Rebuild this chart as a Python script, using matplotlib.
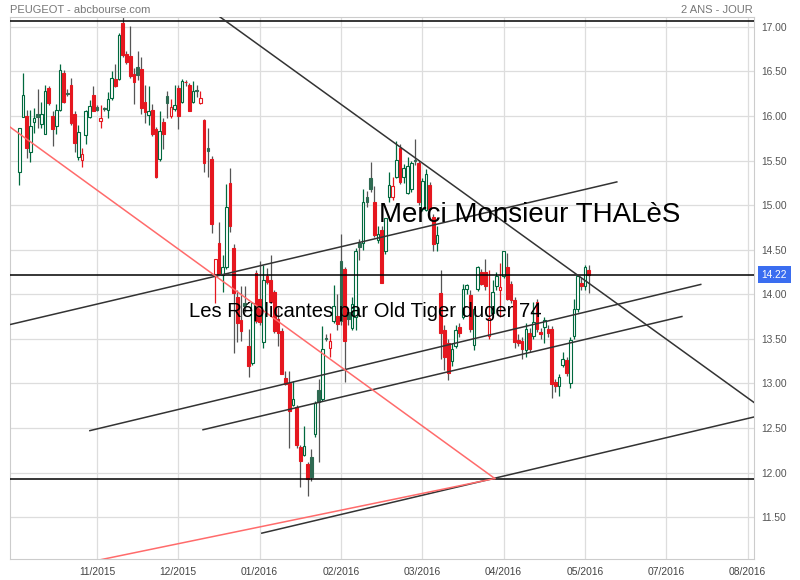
import matplotlib
matplotlib.use("Agg")
import matplotlib.pyplot as plt
from matplotlib.patches import Rectangle
import pandas as pd

# ---- daily candles (trading-day index 0..154) ----
opens = [15.37, 15.99, 16.00, 15.60, 15.93, 16.02, 15.91, 15.80, 16.31, 16.00,
         15.89, 16.07, 16.48, 16.26, 16.35, 16.02, 15.54, 15.51, 15.79, 15.99,
         16.24, 16.10, 15.94, 16.08, 16.07, 16.20, 16.42, 16.42, 17.04, 16.69,
         16.67, 16.47, 16.55, 16.53, 16.16, 16.01, 16.07, 15.85, 15.52, 15.93,
         16.22, 16.00, 16.08, 16.31, 16.16, 16.38, 16.35, 16.16, 16.29, 16.15,
         15.96, 15.64, 15.52, 14.20, 14.57, 14.22, 14.30, 15.25, 14.52, 13.97,
         13.71, 13.90, 13.42, 13.23, 14.24, 13.95, 13.46, 14.20, 14.16, 14.03,
         13.72, 13.59, 13.06, 13.00, 12.76, 12.74, 12.29, 12.20, 12.10, 12.17,
         12.43, 12.93, 12.83, 13.51, 13.40, 13.70, 13.76, 14.37, 14.28, 13.80,
         13.62, 13.75, 14.57, 14.57, 15.09, 15.30, 15.03, 14.61, 14.72, 14.48,
         15.09, 15.09, 15.32, 15.64, 15.31, 15.14, 15.18, 15.51, 15.47, 14.96,
         14.95, 15.22, 14.87, 14.57, 14.01, 13.60, 13.45, 13.25, 13.42, 13.63,
         13.75, 14.06, 13.99, 13.43, 14.06, 14.25, 14.25, 13.53, 13.79, 14.09,
         14.05, 14.21, 14.31, 14.12, 13.94, 13.49, 13.48, 13.38, 13.57, 13.53,
         13.91, 13.58, 13.63, 13.61, 13.61, 13.01, 12.97, 13.21, 13.26, 13.00,
         13.53, 13.84, 14.13, 14.09, 14.27]
highs = [15.87, 16.48, 16.07, 16.07, 16.09, 16.30, 16.16, 16.35, 16.34, 16.05,
         16.13, 16.58, 16.52, 16.30, 16.43, 16.05, 15.90, 15.64, 16.07, 16.18,
         16.34, 16.12, 16.12, 16.10, 16.27, 16.50, 16.58, 16.93, 17.11, 16.73,
         17.01, 16.54, 16.73, 16.66, 16.35, 16.34, 16.13, 15.88, 16.05, 15.98,
         16.28, 16.19, 16.35, 16.35, 16.41, 16.40, 16.37, 16.39, 16.35, 16.28,
         15.97, 15.86, 15.55, 14.39, 14.81, 14.44, 15.24, 15.42, 14.56, 14.05,
         14.09, 14.09, 13.61, 13.91, 14.27, 14.37, 14.33, 14.29, 14.44, 14.05,
         13.86, 13.62, 13.14, 13.14, 13.03, 12.76, 12.31, 12.52, 12.12, 12.26,
         12.80, 13.05, 13.64, 13.55, 13.57, 14.10, 14.00, 14.68, 14.30, 13.85,
         13.97, 14.52, 14.62, 15.18, 15.16, 15.48, 15.21, 14.76, 14.76, 14.86,
         15.37, 15.31, 15.72, 15.69, 15.46, 15.54, 15.50, 15.74, 15.50, 15.30,
         15.40, 15.26, 14.90, 14.77, 14.27, 13.66, 13.50, 13.45, 13.66, 13.68,
         14.12, 14.12, 14.05, 13.86, 14.32, 14.28, 14.40, 14.27, 14.16, 14.25,
         14.35, 14.49, 14.46, 14.15, 13.97, 13.55, 13.52, 13.68, 13.62, 13.91,
         13.95, 13.62, 13.75, 13.66, 13.64, 13.05, 13.10, 13.35, 13.30, 13.52,
         13.95, 14.22, 14.18, 14.33, 14.33]
lows = [15.22, 15.99, 15.53, 15.48, 15.81, 15.87, 15.87, 15.80, 16.12, 15.66,
        15.80, 16.05, 16.14, 16.22, 15.90, 15.60, 15.51, 15.43, 15.69, 15.98,
        16.05, 16.05, 15.87, 16.05, 15.98, 16.18, 16.33, 16.40, 16.66, 16.58,
        16.43, 16.13, 16.40, 16.02, 15.92, 15.90, 15.78, 15.30, 15.50, 15.63,
        15.98, 15.98, 16.06, 15.85, 16.14, 16.34, 16.05, 16.14, 16.21, 16.13,
        15.37, 15.31, 14.69, 13.90, 14.22, 14.03, 14.28, 14.70, 13.34, 13.46,
        13.47, 13.80, 13.07, 13.21, 13.68, 13.66, 13.40, 14.12, 13.90, 13.57,
        13.42, 13.10, 12.98, 12.27, 12.75, 12.28, 11.84, 12.18, 11.74, 11.90,
        12.40, 12.12, 12.80, 13.48, 13.30, 13.68, 13.60, 13.65, 13.02, 13.65,
        13.60, 13.60, 14.38, 14.50, 14.98, 15.15, 14.64, 14.57, 14.13, 14.45,
        15.03, 15.06, 15.30, 15.24, 15.25, 15.12, 15.15, 15.45, 15.00, 14.93,
        14.93, 14.94, 14.49, 14.48, 13.27, 13.15, 13.04, 13.20, 13.40, 13.52,
        13.72, 14.00, 13.58, 13.38, 14.04, 14.10, 14.05, 13.50, 13.75, 14.05,
        13.75, 14.18, 13.93, 13.90, 13.40, 13.42, 13.27, 13.30, 13.35, 13.50,
        13.58, 13.50, 13.45, 13.52, 12.84, 12.90, 12.86, 13.18, 13.08, 12.95,
        13.50, 13.80, 14.05, 14.05, 14.01]
closes = [15.86, 16.24, 15.64, 15.89, 15.98, 15.99, 16.02, 16.28, 16.15, 15.85,
          16.07, 16.51, 16.16, 16.25, 15.92, 15.70, 15.82, 15.57, 16.06, 16.11,
          16.06, 16.07, 15.98, 16.08, 16.19, 16.43, 16.34, 16.91, 16.68, 16.61,
          16.45, 16.38, 16.46, 16.09, 16.04, 16.05, 15.80, 15.32, 15.83, 15.80,
          16.15, 16.10, 16.12, 16.00, 16.39, 16.38, 16.06, 16.28, 16.28, 16.20,
          15.47, 15.61, 14.79, 14.39, 14.22, 14.30, 14.98, 14.77, 14.01, 13.68,
          13.59, 13.87, 13.20, 13.90, 13.70, 13.69, 14.16, 14.14, 13.91, 13.59,
          13.57, 13.11, 12.99, 12.69, 12.82, 12.31, 12.13, 12.30, 11.93, 11.95,
          12.78, 12.79, 13.39, 13.50, 13.47, 13.87, 13.67, 13.70, 13.48, 13.72,
          13.89, 14.48, 14.53, 15.03, 15.04, 15.18, 14.67, 14.68, 14.13, 14.85,
          15.23, 15.21, 15.51, 15.26, 15.42, 15.44, 15.47, 15.49, 15.03, 15.27,
          15.35, 14.96, 14.56, 14.66, 13.56, 13.30, 13.12, 13.39, 13.60, 13.57,
          14.06, 14.10, 13.61, 13.84, 14.31, 14.12, 14.09, 13.73, 14.03, 14.20,
          14.08, 14.49, 13.95, 13.93, 13.46, 13.45, 13.39, 13.61, 13.39, 13.69,
          13.61, 13.55, 13.71, 13.56, 12.99, 12.97, 13.07, 13.27, 13.12, 13.49,
          13.83, 14.20, 14.09, 14.30, 14.22]

# ---- axis labels ----
month_pos = [21, 43, 65, 87, 109, 131, 153, 175, 197]
month_labels = ["11/2015", "12/2015", "01/2016", "02/2016", "03/2016",
                "04/2016", "05/2016", "07/2016", "08/2016"]
price_ticks = [11.5, 12.0, 12.5, 13.0, 13.5, 14.0, 14.5, 15.0, 15.5,
               16.0, 16.5, 17.0]
last_price = 14.22

# ---- drawings (index, price) ----
hlines = [17.07, 14.22, 11.93]
black_lines = [
    ((54.3, 17.11), (198.9, 12.78)),   # resistance
    ((-2.5, 13.66), (161.6, 15.26)),   # channel top
    ((19.1, 12.47), (184.3, 14.11)),
    ((49.7, 12.48), (179.2, 13.75)),
    ((65.6, 11.32), (198.9, 12.625)),
]
red_lines = [
    ((-2.5, 15.876), (128.6, 11.933)),
    ((20.0, 11.005), (128.6, 11.933)),
]

df = pd.DataFrame({"o": opens, "h": highs, "l": lows, "c": closes})
df["prev"] = df["c"].shift(1).fillna(df["o"])
df["up"] = df["c"] >= df["prev"]
df["hollow"] = df["c"] > df["o"]

GREEN = "#00693e"
GREEN_FILL = "#2f6a52"
RED = "#e5171f"
WICK = "#555555"

fig = plt.figure(figsize=(8, 5.8), dpi=100)
ax = fig.add_axes([10 / 800, 1 - 559 / 580, 744 / 800, 542 / 580])
ax.set_xlim(-2.5, 198.7)
ax.set_ylim(11.03, 17.11)

for s in ax.spines.values():
    s.set_color("#cccccc")
    s.set_linewidth(0.8)

ax.set_yticks(price_ticks)
ax.set_yticklabels([f"{v:.2f}" for v in price_ticks])
ax.set_xticks(month_pos)
ax.set_xticklabels(month_labels)
ax.yaxis.tick_right()
ax.tick_params(axis="y", length=0, pad=5, labelsize=7.4, labelcolor="#555555")
ax.tick_params(axis="x", length=0, pad=6, labelsize=7.4, labelcolor="#444444")
for lab in ax.get_xticklabels() + ax.get_yticklabels():
    lab.set_family("Liberation Sans")
ax.grid(True, color="#dddddd", linewidth=0.9, zorder=0)
ax.set_axisbelow(True)

w = 0.72
for i, row in df.iterrows():
    color = GREEN if row["up"] else RED
    lo, hi = min(row["o"], row["c"]), max(row["o"], row["c"])
    body_h = max(hi - lo, 0.006)
    if row["hollow"]:
        ax.vlines(i, row["l"], row["h"], color=color, linewidth=0.9, zorder=2)
        ax.add_patch(Rectangle((i - w / 2, lo), w, body_h, facecolor="white",
                               edgecolor=color, linewidth=0.8, zorder=2.5))
    else:
        fc = GREEN_FILL if row["up"] else RED
        ax.vlines(i, row["l"], row["h"], color=WICK, linewidth=0.9, zorder=2)
        ax.add_patch(Rectangle((i - w / 2, lo), w, body_h, facecolor=fc,
                               edgecolor=fc, linewidth=0.8, zorder=2.5))

for y in hlines:
    ax.axhline(y, color="black", linewidth=1.1, zorder=3)
for (x1, y1), (x2, y2) in black_lines:
    ax.plot([x1, x2], [y1, y2], color="#333333", linewidth=1.1, zorder=3)
for (x1, y1), (x2, y2) in red_lines:
    ax.plot([x1, x2], [y1, y2], color="#ff6b6b", linewidth=1.1, zorder=3)

ax.text(97.4, 14.81, "Merci Monsieur THALèS", fontsize=20,
        family="Liberation Sans", color="black", va="baseline", zorder=4)
ax.text(45.9, 13.75, "Les Réplicantes par Old Tiger duger 74", fontsize=14.6,
        family="Liberation Sans", color="black", va="baseline", zorder=4)

ax.text(1.01, last_price, f"{last_price:.2f}", transform=ax.get_yaxis_transform(),
        ha="left", va="center", fontsize=7.4, color="white", family="Liberation Sans",
        bbox=dict(boxstyle="square,pad=0.35", fc="#3a6df0", ec="none"), zorder=5)

fig.text(10 / 800, 1 - 12.7 / 580, "PEUGEOT - abcbourse.com", fontsize=8,
         color="#777777", family="Liberation Sans", va="baseline", ha="left")
fig.text(753 / 800, 1 - 12.7 / 580, "2 ANS - JOUR", fontsize=8,
         color="#777777", family="Liberation Sans", va="baseline", ha="right")

fig.savefig("out.png", dpi=100)
